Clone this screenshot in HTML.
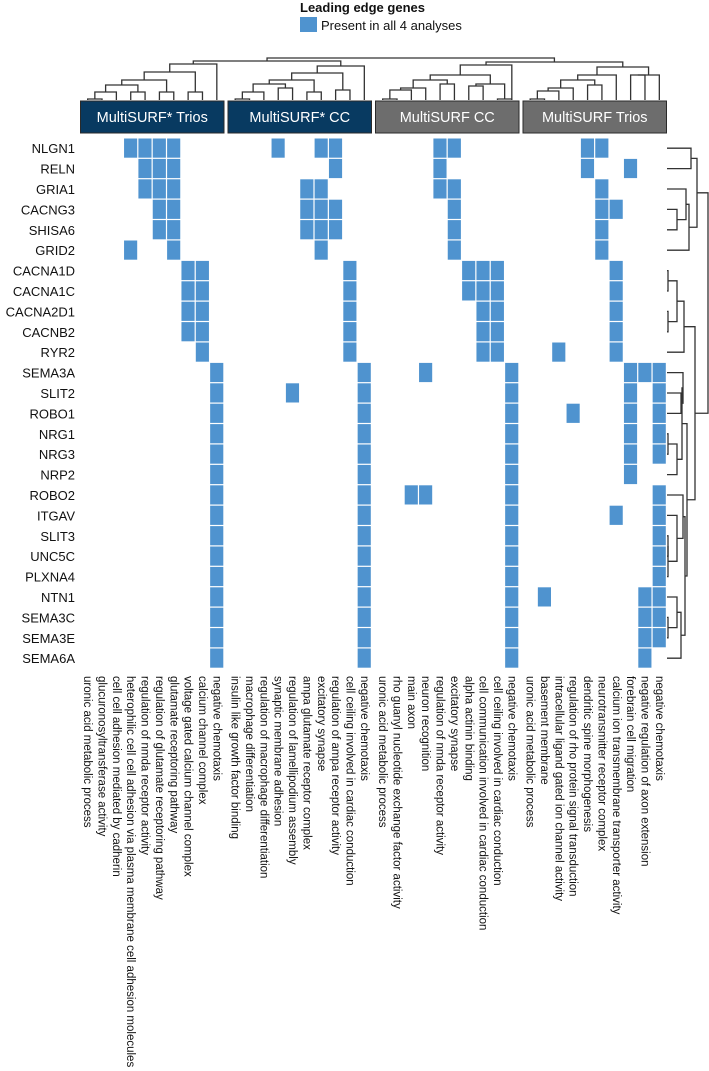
<!DOCTYPE html>
<html><head><meta charset="utf-8"><style>
html,body{margin:0;padding:0;background:#fff;}
svg{display:block;font-family:"Liberation Sans",Arial,sans-serif;}
</style></head><body>
<svg id="chart" width="709" height="1071" viewBox="0 0 709 1071" xmlns="http://www.w3.org/2000/svg">
<g>
<text x="300" y="12" font-size="13" font-weight="bold" fill="#111">Leading edge genes</text>
<rect x="300" y="17" width="17" height="15" fill="#4f93cf"/>
<text x="321" y="30" font-size="13" fill="#111">Present in all 4 analyses</text>
</g>
<g id="groups"></g>
<g id="cells"></g>
<g id="rowlabels"></g>
<g id="collabels"></g>
<g id="dendro" fill="none" stroke="#333" stroke-width="1.3"></g>
</svg>
<script>
const genes=["NLGN1","RELN","GRIA1","CACNG3","SHISA6","GRID2","CACNA1D","CACNA1C","CACNA2D1","CACNB2","RYR2","SEMA3A","SLIT2","ROBO1","NRG1","NRG3","NRP2","ROBO2","ITGAV","SLIT3","UNC5C","PLXNA4","NTN1","SEMA3C","SEMA3E","SEMA6A"];
const groupNames=["MultiSURF* Trios","MultiSURF* CC","MultiSURF CC","MultiSURF Trios"];
const groupColors=["#083a61","#083a61","#6d6d6d","#6d6d6d"];
const terms1=["uronic acid metabolic process","glucuronosyltransferase activity","cell cell adhesion mediated by cadherin","heterophilic cell cell adhesion via plasma membrane cell adhesion molecules","regulation of nmda receptor activity","regulation of glutamate receptoring pathway","glutamate receptoring pathway","voltage gated calcium channel complex","calcium channel complex","negative chemotaxis"];
const terms2=["insulin like growth factor binding","macrophage differentiation","regulation of macrophage differentiation","synaptic membrane adhesion","regulation of lamellipodium assembly","ampa glutamate receptor complex","excitatory synapse","regulation of ampa receptor activity","cell ceiling involved in cardiac conduction","negative chemotaxis"];
const terms3=["uronic acid metabolic process","rho guanyl nucleotide exchange factor activity","main axon","neuron recognition","regulation of nmda receptor activity","excitatory synapse","alpha actinin binding","cell communication involved in cardiac conduction","cell ceiling involved in cardiac conduction","negative chemotaxis"];
const terms4=["uronic acid metabolic process","basement membrane","intracellular ligand gated ion channel activity","regulation of rho protein signal transduction","dendritic spine morphogenesis","neurotransmitter receptor complex","calcium ion transmembrane transporter activity","forebrain cell migration","negative regulation of axon extension","negative chemotaxis"];
const present1=[[3,4,5,6],[4,5,6],[4,5,6],[5,6],[5,6],[3,6],[7,8],[7,8],[7,8],[7,8],[8],[9],[9],[9],[9],[9],[9],[9],[9],[9],[9],[9],[9],[9],[9],[9]];
const present2=[[3,6,7],[7],[5,6],[5,6,7],[5,6,7],[6],[8],[8],[8],[8],[8],[9],[4,9],[9],[9],[9],[9],[9],[9],[9],[9],[9],[9],[9],[9],[9]];
const present3=[[4,5],[4],[4,5],[5],[5],[5],[6,7,8],[6,7,8],[7,8],[7,8],[7,8],[3,9],[9],[9],[9],[9],[9],[2,3,9],[9],[9],[9],[9],[9],[9],[9],[9]];
const present4=[[4,5],[4,7],[5],[5,6],[5],[5],[6],[6],[6],[6],[2,6],[7,8,9],[7,9],[3,7,9],[7,9],[7,9],[7],[9],[6,9],[9],[9],[9],[1,8,9],[8,9],[8,9],[8]];
const NS="http://www.w3.org/2000/svg";
function mk(t,a,p){const e=document.createElementNS(NS,t);for(const k in a)e.setAttribute(k,a[k]);p.appendChild(e);return e;}
const groupX=[80.5,228,375.5,523], colW=14.35, rowTop=138, rowH=20.4;
const colX=(g,c)=>groupX[g]+c*colW;
const rowY=r=>rowTop+r*rowH;
const gG=document.getElementById('groups');
groupNames.forEach((n,g)=>{
 const r=mk('rect',{x:groupX[g],y:101,width:colW*10,height:32,fill:groupColors[g],stroke:'#2a2a2a','stroke-width':1},gG);
 
 
 const t=mk('text',{x:groupX[g]+colW*5,y:122,'text-anchor':'middle','font-size':14.5,fill:'#fff'},gG);
 t.textContent=n;
 
 
});
const cG=document.getElementById('cells');
[present1,present2,present3,present4].forEach((pres,g)=>{
 pres.forEach((cols,r)=>{cols.forEach(c=>{
  const e=mk('rect',{x:colX(g,c)+0.5,y:rowY(r)+0.5,width:colW-1.2,height:rowH-1.2,fill:'#4f93cf'},cG);
  
  
 });});
});
const rG=document.getElementById('rowlabels');
genes.forEach((n,r)=>{
 const t=mk('text',{x:75,y:rowY(r)+rowH/2+5,'text-anchor':'end','font-size':13,fill:'#111'},rG);
 t.textContent=n;
 
 
});
const lG=document.getElementById('collabels');
[terms1,terms2,terms3,terms4].forEach((terms,g)=>{terms.forEach((n,c)=>{
 const x=colX(g,c)+colW/2-0.5;
 const t=mk('text',{transform:`translate(${x},676) rotate(90)`,'font-size':11.5,fill:'#111','dominant-baseline':'central'},lG);
 t.textContent=n;
 
 
});});
const dG=document.getElementById('dendro');
function colTree(node,g){
 if(typeof node==='number') return [colX(g,node)+colW/2,100];
 const a=colTree(node[0],g),b=colTree(node[1],g),h=node[2];
 mk('path',{d:`M${a[0]},${a[1]}V${h}H${b[0]}V${b[1]}`},dG);
 return [(a[0]+b[0])/2,h];
}
function rowTree(node){
 if(typeof node==='number') return [rowY(node)+rowH/2,667];
 const a=rowTree(node[0]),b=rowTree(node[1]),h=node[2];
 mk('path',{d:`M${a[1]},${a[0]}H${h}V${b[0]}H${b[1]}`},dG);
 return [(a[0]+b[0])/2,h];
}
const t1=[[[[[[0,1,99],2,92],[3,4,92],85],[5,6,92],80],[7,8,92],72],9,64];
const t2=[[[[[[0,1,99],2,92],[3,4,88],84],[5,6,92],80],[7,8,90],73],9,66];
const t3=[[[[[[0,1,99],2,90],3,88],[4,5,84],80],[[6,7,86],[8,9,99],84],75],9,65];
const t4=[[[[[[0,1,99],2,91],3,88],[4,5,85],80],6,75],[[7,8,75],9,75],67];
const r1=colTree(t1,0),r2=colTree(t2,1),r3=colTree(t3,2),r4=colTree(t4,3);
mk('path',{d:`M${r1[0]},${r1[1]}V61H${r2[0]}V${r2[1]}`},dG);
mk('path',{d:`M${r3[0]},${r3[1]}V62H${r4[0]}V${r4[1]}`},dG);
mk('path',{d:`M${(r1[0]+r2[0])/2},61V58H${(r3[0]+r4[0])/2}V62`},dG);
const rA=[[0,1,691],[[2,[3,4,677],686],5,689],697];
const rB=[[[6,7,668],[8,9,668],677],10,684];
const rC=[[11,[12,13,681],683],[[14,15,668],16,677],682];
const rD=[[17,[18,[[19,20,668],21,668],677],683],[[22,[23,24,668],677],25,681],685];
const rt=[rA,[rB,[rC,rD,687],695],708];
rowTree(rt);


</script>
</body></html>
